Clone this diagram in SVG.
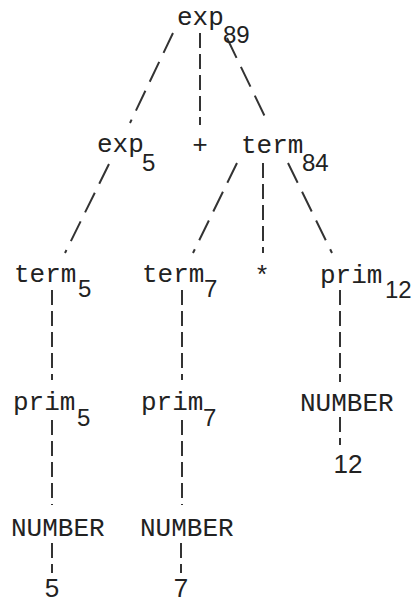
<svg xmlns="http://www.w3.org/2000/svg" width="414" height="603" viewBox="0 0 414 603">
<style>
.t{font-family:"Liberation Mono","DejaVu Sans Mono",monospace;font-size:26px;fill:#222}
.s{font-family:"Liberation Sans",Arial,sans-serif;font-size:24px;fill:#222}
.d{font-family:"Liberation Sans",Arial,sans-serif;font-size:26px;fill:#222}
.e{stroke:#333;stroke-width:2;fill:none}
.v{stroke-dasharray:15 6}
.g{stroke-dasharray:22 10}
</style>
<rect width="414" height="603" fill="#fff"/>
<g id="connectors">
<line class="e g" x1="173" y1="33" x2="130" y2="123"/>
<line class="e v" x1="200" y1="33" x2="200" y2="125"/>
<line class="e g" x1="227" y1="38" x2="268" y2="123"/>
<line class="e g" x1="109" y1="164" x2="65" y2="253"/>
<line class="e g" x1="237" y1="163" x2="193" y2="253"/>
<line class="e v" x1="263" y1="163" x2="263" y2="253"/>
<line class="e g" x1="288" y1="163" x2="332" y2="253"/>
<line class="e v" x1="52" y1="290" x2="52" y2="380"/>
<line class="e v" x1="182" y1="290" x2="182" y2="380"/>
<line class="e v" x1="340" y1="290" x2="340" y2="382"/>
<line class="e v" x1="52" y1="420" x2="52" y2="505"/>
<line class="e v" x1="182" y1="420" x2="182" y2="505"/>
<line class="e v" x1="52" y1="543" x2="52" y2="573"/>
<line class="e v" x1="181" y1="543" x2="181" y2="573"/>
<line class="e v" x1="340" y1="417" x2="340" y2="445"/>
</g>
<g id="exp89"><text class="t" x="177" y="25">exp</text><text class="s" x="223" y="43">89</text></g>
<g id="exp5"><text class="t" x="97" y="152">exp</text><text class="s" x="142" y="171">5</text></g>
<g id="plus"><text class="t" x="200" y="153" text-anchor="middle">+</text></g>
<g id="term84"><text class="t" x="241" y="153">term</text><text class="s" x="302" y="171">84</text></g>
<g id="term5"><text class="t" x="14" y="282">term</text><text class="s" x="78" y="297">5</text></g>
<g id="term7"><text class="t" x="142" y="282">term</text><text class="s" x="204" y="297">7</text></g>
<g id="star"><text class="t" x="262" y="284" text-anchor="middle">*</text></g>
<g id="prim12"><text class="t" x="320" y="283">prim</text><text class="s" x="385" y="298">12</text></g>
<g id="prim5"><text class="t" x="13" y="410">prim</text><text class="s" x="77" y="426">5</text></g>
<g id="prim7"><text class="t" x="141" y="410">prim</text><text class="s" x="203" y="426">7</text></g>
<g id="number12"><text class="t" x="300" y="411">NUMBER</text></g>
<g id="number5"><text class="t" x="11" y="536">NUMBER</text></g>
<g id="number7"><text class="t" x="140" y="536">NUMBER</text></g>
<g id="lit12"><text class="d" x="348" y="473" text-anchor="middle">12</text></g>
<g id="lit5"><text class="d" x="52" y="597" text-anchor="middle">5</text></g>
<g id="lit7"><text class="d" x="181" y="597" text-anchor="middle">7</text></g>
</svg>
